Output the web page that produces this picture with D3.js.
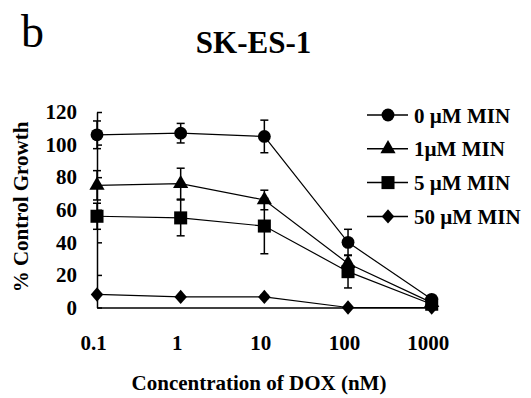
<!DOCTYPE html>
<html>
<head>
<meta charset="utf-8">
<script src="https://cdn.jsdelivr.net/npm/d3@7"></script>
<style>
  body { margin: 0; background: #fff; }
  text { font-family: "Liberation Serif", "Times New Roman", serif; fill: #000; }
</style>
</head>
<body>
<svg id="chart"></svg>
<script>
// chart data
var conc = [0.1, 1, 10, 100, 1000];
var concLabels = ['0.1', '1', '10', '100', '1000'];
var yTicks = [0, 20, 40, 60, 80, 100, 120];
var seriesNames = ['0 µM MIN', '1µM MIN', '5 µM MIN', '50 µM MIN'];

var min0 = [106, 107, 105, 40, 5];
var err0 = [8.5, 6, 10, 8, 2];
var min1 = [75, 76, 66, 27, 3];
var err1 = [9, 9.5, 6, 5, 1];
var min5 = [56, 55, 50, 22, 2];
var err5 = [8, 11, 17, 10, 1];
var min50 = [8, 6.5, 6.5, 0, 0];
var err50 = [1, 0.5, 1, 0.5, 0.5];

var width = 531, height = 398;

var svg = d3.select('#chart')
    .attr('width', width)
    .attr('height', height);

// log scale for concentration, linear for growth
var x = d3.scaleLog()
    .domain([0.1, 1000])
    .range([97, 431.7]);

var y = d3.scaleLinear()
    .domain([0, 120])
    .range([307.5, 112]);

// diamond marker, d3's own diamond is too narrow
var diamond = {
    draw: function (ctx, size) {
        var r = Math.sqrt(size) / 2;
        ctx.moveTo(0, -r * 1.15);
        ctx.lineTo(r, 0);
        ctx.lineTo(0, r * 1.15);
        ctx.lineTo(-r, 0);
        ctx.closePath();
    }
};

var series = [
    { name: seriesNames[0], values: min0, errs: err0, symbol: d3.symbolCircle, size: 130 },
    { name: seriesNames[1], values: min1, errs: err1, symbol: d3.symbolTriangle, size: 100 },
    { name: seriesNames[2], values: min5, errs: err5, symbol: d3.symbolSquare, size: 170 },
    { name: seriesNames[3], values: min50, errs: err50, symbol: diamond, size: 155 }
];

// y axis (ticks point inward)
var yAxis = d3.axisLeft(y)
    .tickValues(yTicks)
    .tickSizeInner(-5)
    .tickSizeOuter(0)
    .tickPadding(20);

svg.append('g')
    .attr('transform', 'translate(' + x(0.1) + ',0)')
    .call(yAxis)
    .call(function (g) {
        g.select('.domain').attr('stroke', '#000').attr('stroke-width', 1.5);
        g.selectAll('.tick line').attr('stroke', '#000').attr('stroke-width', 1.5);
        g.selectAll('.tick text')
            .style('font-size', '21px')
            .style('font-weight', 'bold');
    });

// x axis without tick marks
var xAxis = d3.axisBottom(x)
    .tickValues(conc)
    .tickFormat(function (d, i) { return concLabels[i]; })
    .tickSize(0)
    .tickPadding(28);

svg.append('g')
    .attr('transform', 'translate(0,' + y(0) + ')')
    .call(xAxis)
    .call(function (g) {
        g.select('.domain').attr('stroke', '#000').attr('stroke-width', 1.5);
        g.selectAll('.tick text')
            .attr('dx', -4)
            .style('font-size', '21px')
            .style('font-weight', 'bold');
    });

var line = d3.line()
    .x(function (d, i) { return x(conc[i]); })
    .y(function (d) { return y(d); });

var plot = svg.append('g');

series.forEach(function (s) {
    plot.append('path')
        .datum(s.values)
        .attr('d', line)
        .attr('fill', 'none')
        .attr('stroke', '#000')
        .attr('stroke-width', 1.2);

    // error bars
    var eb = plot.append('g').selectAll('g')
        .data(s.values)
        .enter()
        .append('g');

    eb.append('line')
        .attr('x1', function (d, i) { return x(conc[i]); })
        .attr('x2', function (d, i) { return x(conc[i]); })
        .attr('y1', function (d, i) { return y(d + s.errs[i]); })
        .attr('y2', function (d, i) { return y(Math.max(0, d - s.errs[i])); })
        .attr('stroke', '#000')
        .attr('stroke-width', 1.5);

    [1, -1].forEach(function (sign) {
        eb.append('line')
            .attr('x1', function (d, i) { return x(conc[i]) - 4; })
            .attr('x2', function (d, i) { return x(conc[i]) + 4; })
            .attr('y1', function (d, i) { return y(Math.max(0, d + sign * s.errs[i])); })
            .attr('y2', function (d, i) { return y(Math.max(0, d + sign * s.errs[i])); })
            .attr('stroke', '#000')
            .attr('stroke-width', 1.5);
    });

    plot.append('g').selectAll('path')
        .data(s.values)
        .enter()
        .append('path')
        .attr('d', d3.symbol().type(s.symbol).size(s.size))
        .attr('transform', function (d, i) { return 'translate(' + x(conc[i]) + ',' + y(d) + ')'; })
        .attr('fill', '#000');
});

// legend
var legend = svg.append('g').selectAll('g')
    .data(series)
    .enter()
    .append('g')
    .attr('transform', function (d, i) { return 'translate(367,' + (115 + i * 33.8) + ')'; });

legend.append('line')
    .attr('x1', 0)
    .attr('x2', 41)
    .attr('stroke', '#000')
    .attr('stroke-width', 1.5);

legend.append('path')
    .attr('d', function (d) { return d3.symbol().type(d.symbol).size(d.size)(); })
    .attr('transform', 'translate(21,0)')
    .attr('fill', '#000');

legend.append('text')
    .attr('x', 47)
    .attr('dy', '0.36em')
    .style('font-size', '21px')
    .style('font-weight', 'bold')
    .text(function (d) { return d.name; });

// titles
svg.append('text')
    .attr('x', 21)
    .attr('y', 47)
    .style('font-size', '46px')
    .text('b');

svg.append('text')
    .attr('x', 253.5)
    .attr('y', 53)
    .attr('text-anchor', 'middle')
    .style('font-size', '31px')
    .style('font-weight', 'bold')
    .text('SK-ES-1');

svg.append('text')
    .attr('x', 259)
    .attr('y', 390)
    .attr('text-anchor', 'middle')
    .style('font-size', '21px')
    .style('font-weight', 'bold')
    .text('Concentration of DOX (nM)');

svg.append('text')
    .attr('transform', 'translate(28,207) rotate(-90)')
    .attr('text-anchor', 'middle')
    .style('font-size', '21px')
    .style('font-weight', 'bold')
    .text('% Control Growth');
</script>
</body>
</html>
